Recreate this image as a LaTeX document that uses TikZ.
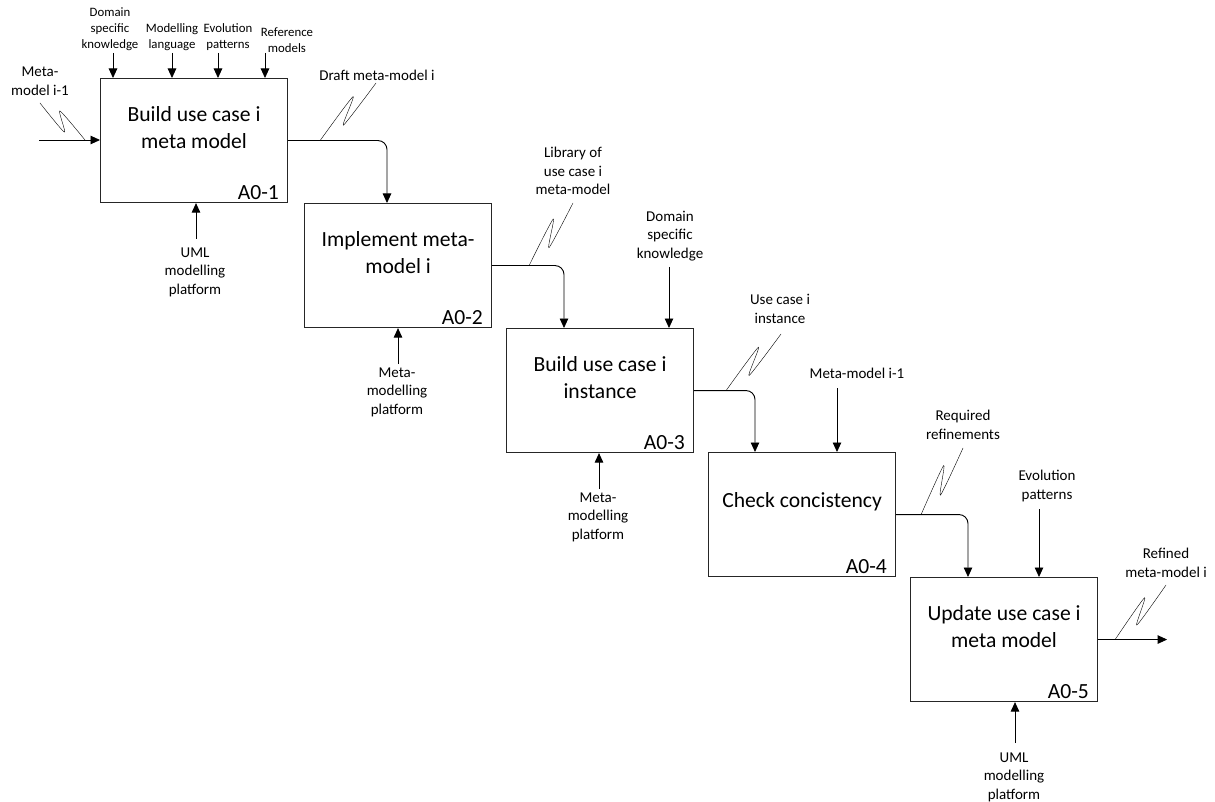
\documentclass[tikz,border=0pt]{standalone}
\usepackage{fontspec}
\setmainfont{Carlito}
\usetikzlibrary{arrows.meta,calc}

\begin{document}
\begin{tikzpicture}[x=1pt,y=-1pt,
  act/.style={draw=black!85, line width=1.1pt, minimum width=187pt,
    minimum height=124pt, anchor=north west, inner sep=0pt},
  ttl/.style={font=\fontsize{21.6}{27}\selectfont, align=center, inner sep=0pt},
  aid/.style={font=\fontsize{21.6}{26}\selectfont, anchor=base east, inner sep=0pt},
  lbl/.style={font=\fontsize{15}{18.5}\selectfont, align=center, inner sep=0pt},
  lbls/.style={font=\fontsize{12.8}{16}\selectfont, align=center, inner sep=0pt},
  flow/.style={line width=0.9pt, -{Triangle[length=9.5pt,width=8.5pt]}},
  flowr/.style={flow, rounded corners=9pt},
  % IDEF0 squiggle: a thin "N" between an arrow and its label
  squig/.style={line width=0.8pt,
    to path={plot[smooth, tension=0.4] coordinates {(\tikztostart)
             ($(\tikztostart)!0.68!(\tikztotarget)!7pt!90:(\tikztotarget)$)
             ($(\tikztostart)!0.34!(\tikztotarget)!6pt!-90:(\tikztotarget)$)
             (\tikztotarget)}}},
  squigm/.style={line width=0.8pt,
    to path={plot[smooth, tension=0.4] coordinates {(\tikztostart)
             ($(\tikztostart)!0.65!(\tikztotarget)!6.5pt!-90:(\tikztotarget)$)
             ($(\tikztostart)!0.36!(\tikztotarget)!7pt!90:(\tikztotarget)$)
             (\tikztotarget)}}}
]
\fill[white] (0,0) rectangle (1215,802);
\useasboundingbox (0,0) rectangle (1215,802);

% activity boxes
\node[act] (b1) at (100,78) {};
\node[act] (b2) at (304,203) {};
\node[act] (b3) at (506,328) {};
\node[act] (b4) at (708,452) {};
\node[act] (b5) at (910,577) {};

% activity names
\node[ttl] (t1) at ($(b1.north)+(0,50)$) {Build use case i\\meta model};
\node[ttl] (t2) at ($(b2.north)+(0,50)$) {Implement meta-\\model i};
\node[ttl] (t3) at ($(b3.north)+(0,50)$) {Build use case i\\instance};
\node[ttl] (t4) at ($(b4.north)+(0,50)$) {Check concistency};
\node[ttl] (t5) at ($(b5.north)+(0,50)$) {Update use case i\\meta model};

% node numbers
\node[aid] (n1) at ($(b1.south east)+(-9,-4)$) {A0-1};
\node[aid] (n2) at ($(b2.south east)+(-9,-4)$) {A0-2};
\node[aid] (n3) at ($(b3.south east)+(-9,-4)$) {A0-3};
\node[aid] (n4) at ($(b4.south east)+(-9,-4)$) {A0-4};
\node[aid] (n5) at ($(b5.south east)+(-9,-4)$) {A0-5};

% controls of A0-1
\node[lbls] (l1a) at (110,29) {Domain\\specific\\knowledge};
\node[lbls] (l1b) at (172,37) {Modelling\\language};
\node[lbls] (l1c) at (228,37) {Evolution\\patterns};
\node[lbls] (l1d) at (287,40) {Reference\\models};
\coordinate (c1a) at (113,53);
\coordinate (c1b) at (172,53);
\coordinate (c1c) at (218,53);
\coordinate (c1d) at (265,53);
\draw[flow] (c1a) -- (c1a |- b1.north);
\draw[flow] (c1b) -- (c1b |- b1.north);
\draw[flow] (c1c) -- (c1c |- b1.north);
\draw[flow] (c1d) -- (c1d |- b1.north);

% input of A0-1
\node[lbl] (lin) at (40,81) {Meta-\\model i-1};
\coordinate (in1) at (39,140);
\draw[flow] (in1) -- (in1 -| b1.west);
\coordinate (q1s) at (85,140);
\coordinate (q1e) at (40,103);
\draw (q1s) to[squigm] (q1e);

% mechanism of A0-1
\node[lbl] (m1) at (195,272) {UML\\modelling\\platform};
\coordinate (mc1) at (196,239);
\draw[flow] (mc1) -- (mc1 |- b1.south);

% A0-1 -> A0-2
\draw[flowr] (b1.east) -| ($(b2.north west)+(83,0)$);
\node[lbl] (o1) at (377,75) {Draft meta-model i};
\coordinate (q2s) at ($(b1.east)+(32,0)$);
\coordinate (q2e) at (376,83);
\draw (q2s) to[squig] (q2e);

% mechanism of A0-2
\node[lbl] (m2) at (397,392) {Meta-\\modelling\\platform};
\coordinate (mc2) at (398,364);
\draw[flow] (mc2) -- (mc2 |- b2.south);

% A0-2 -> A0-3
\draw[flowr] (b2.east) -| ($(b3.north west)+(58,0)$);
\node[lbl] (o2) at (573,171) {Library of\\use case i\\meta-model};
\coordinate (q3s) at ($(b2.east)+(37,0)$);
\coordinate (q3e) at (573,203);
\draw (q3s) to[squig] (q3e);

% control of A0-3
\node[lbl] (l3) at (670,236) {Domain\\specific\\knowledge};
\coordinate (c3) at (669,267);
\draw[flow] (c3) -- (c3 |- b3.north);

% mechanism of A0-3
\node[lbl] (m3) at (598,517) {Meta-\\modelling\\platform};
\coordinate (mc3) at (599,489);
\draw[flow] (mc3) -- (mc3 |- b3.south);

% A0-3 -> A0-4
\draw[flowr] (b3.east) -| ($(b4.north west)+(47,0)$);
\node[lbl] (o3) at (780,309) {Use case i\\instance};
\coordinate (q4s) at ($(b3.east)+(32,0)$);
\coordinate (q4e) at (781,334);
\draw (q4s) to[squig] (q4e);

% control of A0-4
\node[lbl] (l4) at (857,373) {Meta-model i-1};
\coordinate (c4) at (837,388);
\draw[flow] (c4) -- (c4 |- b4.north);

% A0-4 -> A0-5
\draw[flowr] (b4.east) -| ($(b5.north west)+(58,0)$);
\node[lbl] (o4) at (963,425) {Required\\refinements};
\coordinate (q5s) at ($(b4.east)+(25,0)$);
\coordinate (q5e) at (963,448);
\draw (q5s) to[squig] (q5e);

% control of A0-5
\node[lbl] (l5) at (1047,486) {Evolution\\patterns};
\coordinate (c5) at (1039,509);
\draw[flow] (c5) -- (c5 |- b5.north);

% mechanism of A0-5
\node[lbl] (m5) at (1014,777) {UML\\modelling\\platform};
\coordinate (mc5) at (1015,743);
\draw[flow] (mc5) -- (mc5 |- b5.south);

% output of A0-5
\node[lbl] (o5) at (1166,563) {Refined\\meta-model i};
\coordinate (out5) at ($(b5.east)+(69,0)$);
\draw[flow] (b5.east) -- (out5);
\coordinate (q6s) at ($(b5.east)+(17,0)$);
\coordinate (q6e) at (1166,585);
\draw (q6s) to[squig] (q6e);
\end{tikzpicture}
\end{document}
